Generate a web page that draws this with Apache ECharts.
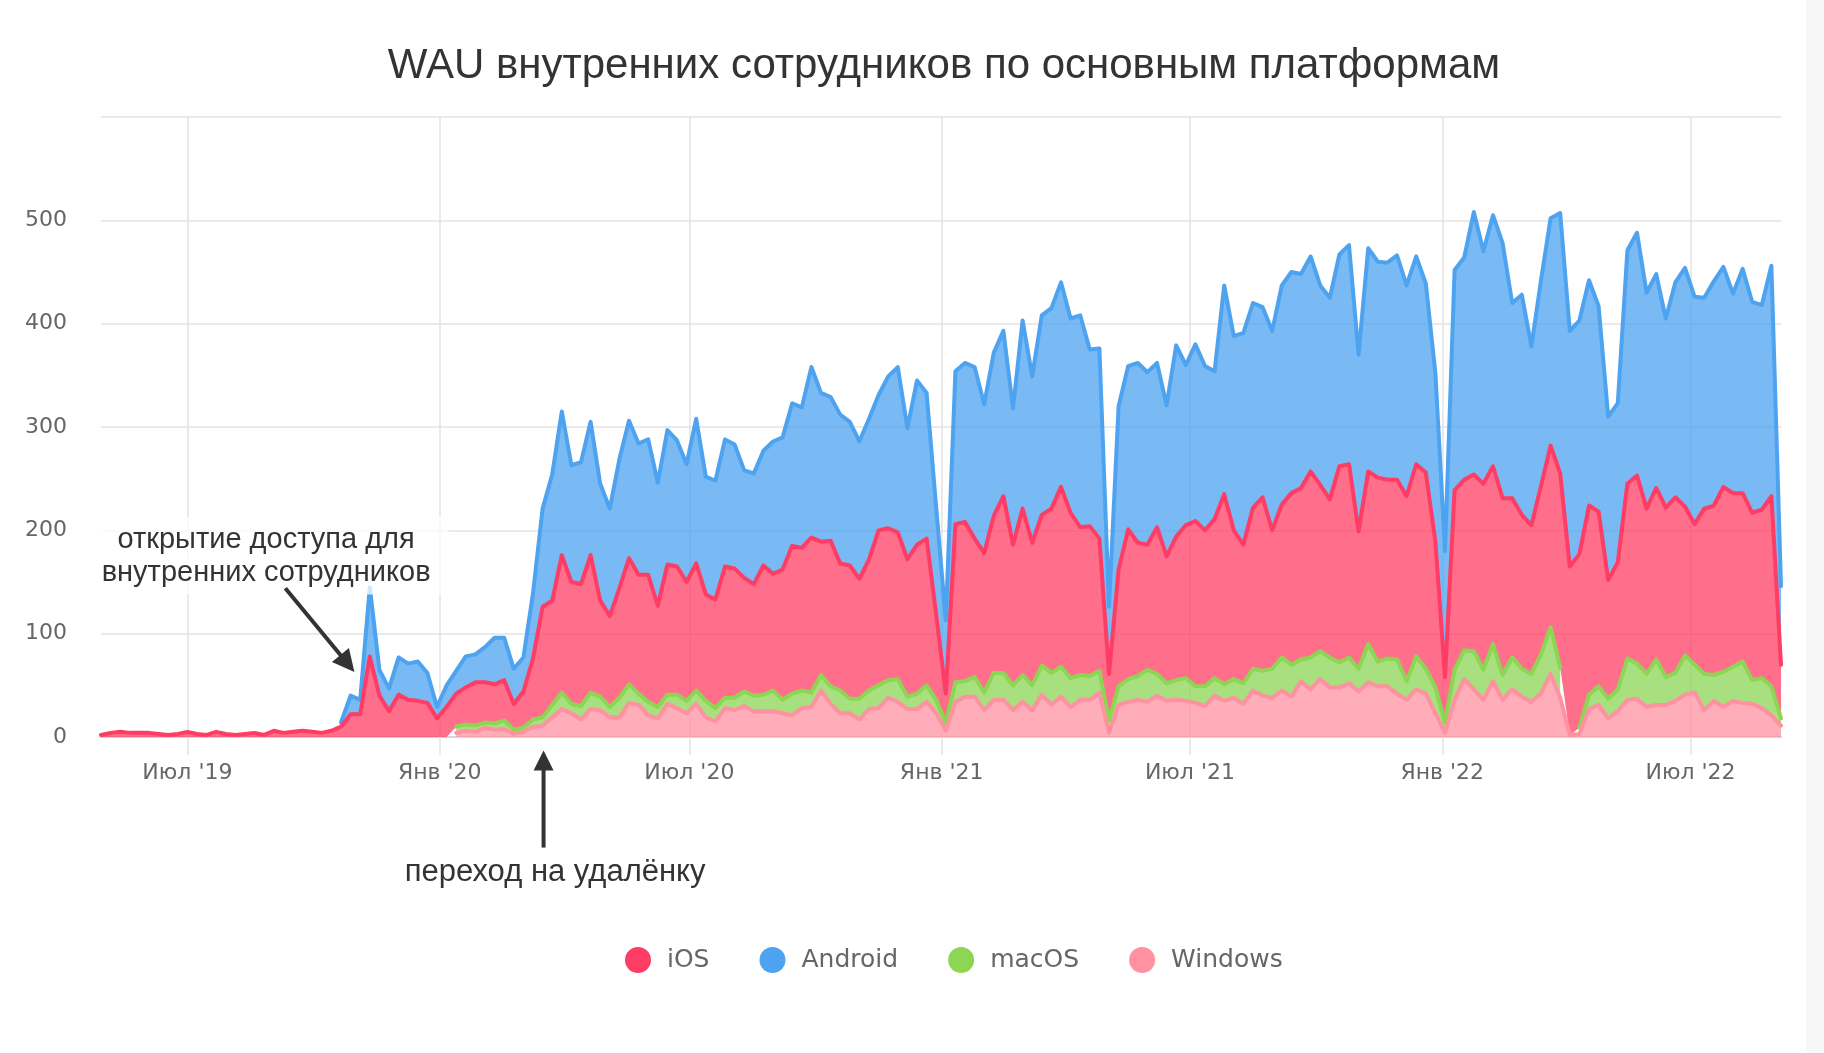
<!DOCTYPE html>
<html>
<head>
<meta charset="utf-8">
<script src="https://cdn.jsdelivr.net/npm/echarts@6/dist/echarts.min.js"></script>
<style>
html,body{margin:0;padding:0;background:#ffffff;}
#chart{width:1824px;height:1053px;}
</style>
</head>
<body>
<div id="chart"></div>
<script>
// ---------- data ----------
const TITLE = 'WAU внутренних сотрудников по основным платформам';
const START_DATE = [2019, 3, 29];          // first weekly point (Mon 29 Apr 2019)
const seriesNames = ['iOS', 'Android', 'macOS', 'Windows'];

const ios = [
  2,4,5,4,4,4,3,2,3,5,
  3,2,5,3,2,3,4,2,6,4,
  5,6,5,4,6,10,22,22,78,40,
  25,41,36,35,33,18,29,32,36,42,
  39,38,39,25,35,59,107,101,133,118,
  118,133,93,88,106,122,115,123,98,126,
  124,115,123,103,105,127,125,110,108,125,
  113,126,143,138,150,129,141,123,129,116,
  127,150,147,142,133,144,142,82,29,153,
  154,134,135,152,171,136,161,138,146,159,
  174,160,143,145,128,45,113,145,129,121,
  142,123,139,148,160,151,154,184,144,134,
  156,168,134,148,166,166,180,161,153,190,
  187,133,167,178,173,174,179,186,190,141,
  44,174,165,171,180,172,171,154,149,144,
  163,176,188,163,168,183,169,115,123,169,
  182,160,166,164,170,144,136,160,164,179,
  168,163,162,163,184,52
];
const android = [
  null,null,null,null,null,null,null,null,null,null,
  null,null,null,null,null,null,null,null,null,null,
  null,null,null,null,null,4,18,14,67,25,
  22,36,35,38,29,11,21,22,30,27,
  34,45,41,34,33,63,95,122,139,113,
  118,129,113,104,125,133,127,131,119,130,
  122,114,140,114,115,123,120,104,107,111,
  128,128,138,136,165,144,139,144,139,133,
  136,131,147,160,127,159,141,104,71,148,
  154,166,144,158,160,132,182,161,193,194,
  198,188,205,171,184,65,158,158,174,167,
  159,146,185,155,171,159,143,202,188,205,
  198,184,193,212,214,207,208,193,195,205,
  212,171,216,209,210,217,204,201,183,163,
  122,213,215,254,225,243,247,189,213,173,
  199,220,252,228,226,218,199,158,154,226,
  235,209,207,183,208,231,220,204,217,213,
  193,217,204,198,223,76
];
const macos = [
  null,null,null,null,null,null,null,null,null,null,
  null,null,null,null,null,null,null,null,null,null,
  null,null,null,null,null,null,null,null,null,null,
  null,null,null,null,null,null,null,6,6,6,
  5,6,8,4,4,7,8,12,16,9,
  13,16,13,10,19,18,11,13,11,9,
  13,12,13,16,13,10,12,14,15,16,
  20,13,21,17,14,15,17,22,14,20,
  18,22,17,22,12,15,16,13,7,19,
  15,19,17,26,26,24,26,24,28,31,
  29,28,24,23,21,12,18,22,23,31,
  21,17,19,22,16,19,17,16,18,20,
  21,24,28,32,31,21,31,27,29,24,
  25,22,37,24,27,33,18,32,24,25,
  10,29,28,37,29,36,24,31,27,27,
  38,45,29,null,6,14,18,19,21,40,
  34,32,44,27,27,38,27,35,25,34,
  33,40,23,29,28,7
];
const windows = [
  null,null,null,null,null,null,null,null,null,null,
  null,null,null,null,null,null,null,null,null,null,
  null,null,null,null,null,null,null,null,null,null,
  null,null,null,null,null,null,null,4,6,5,
  9,7,8,3,5,10,11,19,27,23,
  17,27,26,19,19,33,31,21,18,32,
  28,23,32,19,15,28,26,30,25,25,
  25,23,21,28,29,45,32,23,23,17,
  27,28,38,34,27,27,34,23,6,34,
  39,39,26,36,36,26,34,26,41,31,
  39,29,36,36,43,4,31,34,36,34,
  40,35,36,35,33,30,40,35,38,32,
  45,40,38,45,39,54,46,56,48,48,
  52,44,53,49,49,42,36,46,42,23,
  4,36,56,46,36,54,36,46,39,34,
  42,61,38,2,3,27,31,18,25,36,
  37,29,31,31,35,41,43,26,35,29,
  35,33,32,28,21,11
];

const tickDates = [[2019,6,1],[2020,0,1],[2020,6,1],[2021,0,1],[2021,6,1],[2022,0,1],[2022,6,1]];
const tickLabels = ["Июл '19", "Янв '20", "Июл '20", "Янв '21", "Июл '21", "Янв '22", "Июл '22"];

const noteOpen = ['открытие доступа для', 'внутренних сотрудников'];
const noteRemote = 'переход на удалёнку';

// ---------- build ----------
const WEEK = 7 * 24 * 3600 * 1000;
const t0 = Date.UTC(START_DATE[0], START_DATE[1], START_DATE[2]);
const weeks = ios.map((_, i) => t0 + i * WEEK);
const tickValues = tickDates.map(d => Date.UTC(d[0], d[1], d[2]));

const colors = {
  iOS: '#ff3d64',
  Android: '#4ea3f0',
  macOS: '#8cd654',
  Windows: '#ff91a0'
};
const toData = arr => arr.map((v, i) => [weeks[i], v === null ? '-' : v]);

function mkSeries(name, arr, z) {
  return {
    name: name,
    type: 'line',
    stack: 'total',
    xAxisIndex: 0,
    data: toData(arr),
    symbol: 'none',
    showSymbol: false,
    connectNulls: false,
    silent: true,
    z: z,
    lineStyle: { width: 4, color: colors[name], join: 'round', cap: 'round' },
    itemStyle: { color: colors[name] },
    areaStyle: { color: colors[name], opacity: 0.75 },
    emphasis: { disabled: true }
  };
}

const FONT_AX = 'DejaVu Sans';
const chart = echarts.init(document.getElementById('chart'), null, { renderer: 'canvas' });

function arrow(x1, y1, x2, y2, head, half) {
  const dx = x2 - x1, dy = y2 - y1;
  const L = Math.sqrt(dx * dx + dy * dy);
  const ux = dx / L, uy = dy / L;
  const bx = x2 - ux * head, by = y2 - uy * head;
  const px = -uy, py = ux;
  return [
    { type: 'line', z: 101, silent: true,
      shape: { x1: x1, y1: y1, x2: bx + ux * 2, y2: by + uy * 2 },
      style: { stroke: '#333', lineWidth: 4 } },
    { type: 'polygon', z: 101, silent: true,
      shape: { points: [[x2, y2], [bx + px * half, by + py * half], [bx - px * half, by - py * half]] },
      style: { fill: '#333' } }
  ];
}

function labelFor(v) {
  let best = 0, bd = Infinity;
  tickValues.forEach((t, i) => { const d = Math.abs(t - v); if (d < bd) { bd = d; best = i; } });
  return tickLabels[best];
}

const option = {
  animation: false,
  backgroundColor: '#ffffff',
  title: {
    text: TITLE,
    left: 944,
    top: 45,
    padding: 0,
    textAlign: 'center',
    textStyle: { fontFamily: 'Liberation Sans', fontSize: 42, fontWeight: 'normal', color: '#333333' }
  },
  legend: {
    data: seriesNames,
    icon: 'circle',
    itemWidth: 26,
    itemHeight: 26,
    itemGap: 50,
    left: 620,
    top: 942,
    itemStyle: { borderWidth: 0 },
    textStyle: { fontFamily: FONT_AX, fontSize: 25, color: '#666666', padding: [0, 0, 0, 11] },
    selectedMode: false
  },
  grid: { left: 101, right: 43, top: 117, bottom: 316, containLabel: false },
  xAxis: [
    {
      // time axis carrying the series
      type: 'time',
      position: 'bottom',
      min: weeks[0],
      max: weeks[weeks.length - 1],
      axisLine: { show: false },
      axisTick: { show: false },
      axisLabel: { show: false },
      splitLine: { show: false }
    },
    {
      // same extent, draws the half-year ticks, labels and grid lines
      type: 'value',
      position: 'bottom',
      min: weeks[0],
      max: weeks[weeks.length - 1],
      axisLine: { show: true, onZero: false, lineStyle: { color: '#d6d6d6', width: 2 } },
      axisTick: { show: true, customValues: tickValues, length: 18, lineStyle: { color: '#e3e3e3', width: 1.5 } },
      splitLine: { show: true, lineStyle: { color: '#e3e3e3', width: 1.5 } },
      axisLabel: {
        customValues: tickValues,
        margin: 25,
        fontFamily: FONT_AX,
        fontSize: 22,
        color: '#666666',
        formatter: labelFor
      }
    }
  ],
  yAxis: {
    type: 'value',
    min: 0,
    max: 600,
    interval: 100,
    axisLine: { show: false },
    axisTick: { show: false },
    splitLine: { show: true, lineStyle: { color: '#e3e3e3', width: 1.5 } },
    axisLabel: {
      margin: 34,
      fontFamily: FONT_AX,
      fontSize: 22,
      color: '#666666',
      formatter: v => (v === 600 ? '' : String(v))
    }
  },
  series: [
    mkSeries('Windows', windows, 6),
    mkSeries('macOS', macos, 5),
    mkSeries('iOS', ios, 4),
    mkSeries('Android', android, 3)
  ]
};
chart.setOption(option);

// annotations (positioned from the grid's data coordinates)
const P = (ti, v) => chart.convertToPixel({ xAxisIndex: 0, yAxisIndex: 0 }, [t0 + ti * WEEK, v]);
const tip1 = P(26.4, 63), tail1 = P(19.2, 144);
const tip2 = P(46.1, -13), tail2 = P(46.1, -107);
const box1a = P(-0.6, 213), box1b = P(36.2, 138);
const txt1a = P(17.2, 191), txt1b = P(17.2, 159);
const txt2 = P(47.3, -131);

const graphics = [
  { type: 'rect', z: 0, silent: true, shape: { x: 1806, y: 0, width: 18, height: 1053 }, style: { fill: '#f7f7f7' } },
  { type: 'rect', z: 100, silent: true,
    shape: { x: box1a[0], y: box1a[1], width: box1b[0] - box1a[0], height: box1b[1] - box1a[1] },
    style: { fill: 'rgba(255,255,255,0.75)' } },
  { type: 'text', z: 102, silent: true, x: txt1a[0], y: txt1a[1],
    style: { text: noteOpen[0], font: '29px "Liberation Sans"', fill: '#333333', align: 'center', verticalAlign: 'middle' } },
  { type: 'text', z: 102, silent: true, x: txt1b[0], y: txt1b[1],
    style: { text: noteOpen[1], font: '29px "Liberation Sans"', fill: '#333333', align: 'center', verticalAlign: 'middle' } },
  { type: 'text', z: 102, silent: true, x: txt2[0], y: txt2[1],
    style: { text: noteRemote, font: '31px "Liberation Sans"', fill: '#333333', align: 'center', verticalAlign: 'middle' } }
].concat(arrow(tail1[0], tail1[1], tip1[0], tip1[1], 22, 11))
 .concat(arrow(tail2[0], tail2[1], tip2[0], tip2[1], 20, 10));

chart.setOption({ graphic: graphics });
</script>
</body>
</html>
